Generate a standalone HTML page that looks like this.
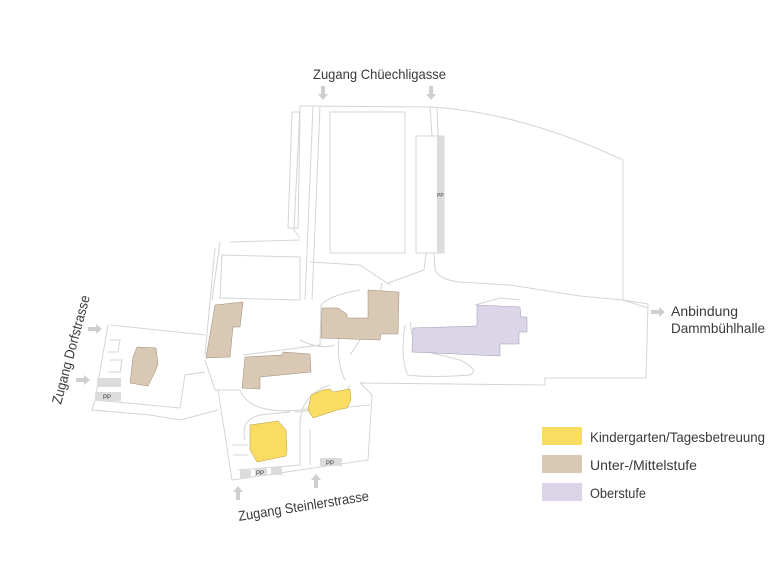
<!DOCTYPE html>
<html><head><meta charset="utf-8"><style>
html,body{margin:0;padding:0;background:#fff;width:780px;height:585px;overflow:hidden}
svg{display:block}
text{font-family:"Liberation Sans Narrow","Liberation Sans",sans-serif;fill:#3a3a3a}
</style></head><body>
<svg width="780" height="585" viewBox="0 0 780 585" xmlns="http://www.w3.org/2000/svg">
<g fill="none" stroke="#d4d4d4" stroke-width="1">
<path d="M300,106 L430,107 Q520,112 623,160 L623,300 L648,304 L646,378 L545,378 L545,385 L360,383"/>
<path d="M300,106 L294,230 L300,238 M313,106 L305,300 M320,106 L312,300"/>
<path d="M292,112 L300,112 L298,228 L288,228 Z"/>
<rect x="330" y="112" width="75" height="141"/>
<path d="M416,136 L444,136 L444,253 L416,253 Z"/>
<path d="M430,107 L432,136 M437,107 L438,136"/>
<path d="M426,253 L424,270 Q410,275 388,283 M434,253 L435,270 Q440,280 460,282 L510,285 L580,296 L623,300"/>
<path d="M310,262 L360,265 L390,285"/>
<path d="M230,242 L300,240 M222,255 L300,257 L300,300 L220,298 Z"/>
<path d="M215,248 L205,355 M220,242 L212,300"/>
<path d="M110,325 L205,335 M108,325 L95,400 L180,408 L185,375 L205,372"/>
<path d="M95,400 L92,410 L150,415 L180,420 L218,410"/>
<path d="M110,340 L120,340 L118,352 L108,352 M110,360 L122,360 L120,372 L108,372"/>
<path d="M205,360 L215,390 L240,390 M243,355 L320,345 L321,305 Q330,295 360,290"/>
<path d="M218,390 L232,480 L300,470 L368,460 L372,395 L360,383"/>
<path d="M240,390 Q250,415 300,410 Q340,405 350,385"/>
<path d="M245,440 Q240,420 260,415 L290,412 M300,425 Q300,395 330,385"/>
<path d="M340,330 Q335,360 345,380 M405,325 Q400,360 408,375 Q430,378 470,375 Q480,370 460,360 L420,350"/>
<path d="M300,340 Q320,350 335,345 M382,283 Q375,320 350,355"/>
<path d="M232,445 L248,445 M233,455 L248,455 M238,470 L300,465 L300,420 M310,430 L310,465 M295,412 L370,405"/>
<path d="M410,322 L412,335 M475,305 L500,298 L520,300"/>
<path d="M623,300 L648,308"/>
</g>
<g fill="#dcdcdc">
<rect x="437" y="136" width="7" height="117"/>
<rect x="97" y="378" width="24" height="9"/>
<rect x="95" y="392" width="26" height="9"/>
<rect x="240" y="470" width="11" height="8"/>
<rect x="255" y="468" width="12" height="8"/>
<rect x="271" y="467" width="11" height="8"/>
<rect x="320" y="458" width="22" height="8"/>
</g>
<g font-size="6" fill="#444">
<text x="437" y="197" font-size="5">PP</text>
<text x="103" y="399">PP</text>
<text x="256" y="475">PP</text>
<text x="326" y="465">PP</text>
</g>
<g stroke="#9a8a78" stroke-width="0.5" fill="#d9c8b4">
<polygon points="368,290 399,292 398,334 381,334 380,340 321,338 322,308 338,308 347,314 347,318 368,318"/>
<polygon points="215,305 243,302 240,327 233,327 230,357 206,358"/>
<polygon points="245,357 282,355 283,352 310,354 311,372 260,377 260,389 242,388 243,378"/>
<polygon points="137,347 156,348 158,364 155,372 148,386 130,383 133,357"/>
</g>
<polygon points="477,305 520,307 521,317 527,317 527,332 519,332 519,344 500,344 500,356 412,352 413,328 477,326" fill="#dcd5e8" stroke="#9f97b3" stroke-width="0.5"/>
<g fill="#fbdc62" stroke="#b09a40" stroke-width="0.5">
<polygon points="250,425 278,421 286,430 287,450 286,456 257,462 250,450"/>
<polygon points="323,390 330,389 333,392 350,389 351,400 347,408 337,410 331,412 313,418 308,410 311,395"/>
</g>
<g fill="#cfcfcf">
<path d="M321,86 h4 v8 h3 l-5,6 l-5,-6 h3 z"/>
<path d="M429,86 h4 v8 h3 l-5,6 l-5,-6 h3 z"/>
<path d="M651,310 h8 v-3 l6,5 l-6,5 v-3 h-8 z"/>
<path d="M88,327 h8 v-3 l6,5 l-6,5 v-3 h-8 z"/>
<path d="M76,378 h8 v-3 l6,5 l-6,5 v-3 h-8 z"/>
<path d="M236,500 h4 v-8 h3 l-5,-6 l-5,6 h3 z"/>
<path d="M314,488 h4 v-8 h3 l-5,-6 l-5,6 h3 z"/>
</g>
<text x="313" y="79" font-size="14" textLength="133" lengthAdjust="spacingAndGlyphs">Zugang Chüechligasse</text>
<text x="671" y="316" font-size="14" textLength="67" lengthAdjust="spacingAndGlyphs">Anbindung</text>
<text x="671" y="333" font-size="14" textLength="94" lengthAdjust="spacingAndGlyphs">Dammbühlhalle</text>
<text x="0" y="0" font-size="14" textLength="112" lengthAdjust="spacingAndGlyphs" transform="translate(61,405) rotate(-75)">Zugang Dorfstrasse</text>
<text x="0" y="0" font-size="14" textLength="132" lengthAdjust="spacingAndGlyphs" transform="translate(239,521) rotate(-9)">Zugang Steinlerstrasse</text>
<rect x="542" y="427" width="40" height="18" fill="#fbdc62"/>
<rect x="542" y="455" width="40" height="18" fill="#d9c8b4"/>
<rect x="542" y="483" width="40" height="18" fill="#dcd5e8"/>
<text x="590" y="442" font-size="14" textLength="175" lengthAdjust="spacingAndGlyphs">Kindergarten/Tagesbetreuung</text>
<text x="590" y="470" font-size="14" textLength="107" lengthAdjust="spacingAndGlyphs">Unter-/Mittelstufe</text>
<text x="590" y="498" font-size="14" textLength="56" lengthAdjust="spacingAndGlyphs">Oberstufe</text>
</svg>
</body></html>
